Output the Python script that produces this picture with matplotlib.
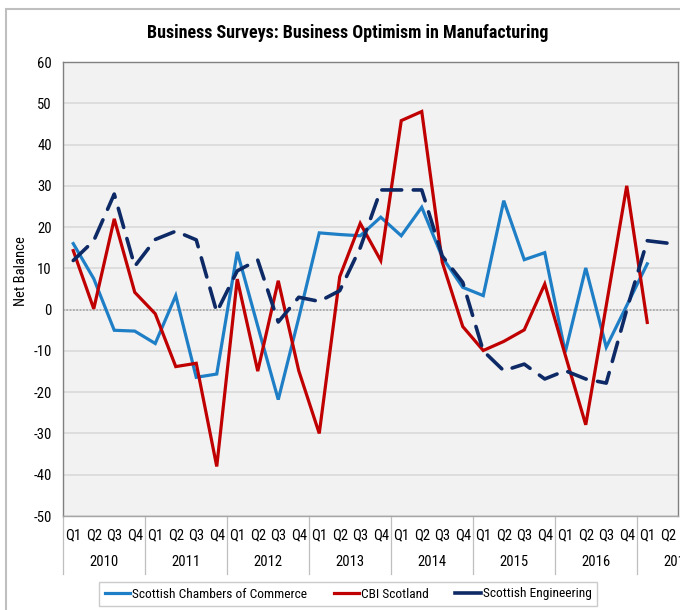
import matplotlib
matplotlib.use("Agg")
import matplotlib.pyplot as plt
from matplotlib.lines import Line2D
from matplotlib.patches import Rectangle
import numpy as np

plt.rcParams['font.family'] = ['Roboto Condensed', 'PT Sans Narrow', 'Liberation Sans', 'DejaVu Sans']

years = ['2010', '2011', '2012', '2013', '2014', '2015', '2016', '2017']
quarters = ['Q1', 'Q2', 'Q3', 'Q4']
n_q = 30  # 2010 Q1 .. 2017 Q2

scc = [16, 7.5, -5, -5.2, -8.2, 3.4, -16.4, -15.6,
       14, -4, -21.8, -2, 18.6, 18.2, 17.9, 22.4,
       17.9, 24.8, 12.7, 5.4, 3.4, 26.4, 12.1, 13.8,
       -10.3, 10.1, -9.1, 1, 11.1]
cbi = [14.3, 0.2, 22, 4.2, -1, -13.8, -13, -38,
       7.4, -14.9, 7, -14.8, -30, 8, 20.9, 11.9,
       45.8, 48, 11.5, -4.1, -9.9, -7.7, -4.9, 6.2,
       -11, -27.9, 1, 30, -3.1]
se = [11.9, 16.7, 28, 10.5, 17, 19, 16.9, -0.6,
      9.4, 12, -3, 3, 2, 4.6, 15, 29,
      29, 29, 13, 6.6, -10, -14.8, -13.2, -16.8,
      -14.8, -16.8, -17.8, 0, 16.7, 16.1]

fig = plt.figure(figsize=(6.8, 6.1), dpi=100)
W, H = 680, 610

# outer chart frame
fig.patches.append(Rectangle((6 / W, -0.05), 1.2, 1 - 9 / H + 0.05,
                             transform=fig.transFigure, fill=False,
                             edgecolor='#bfbfbf', linewidth=1.5))

ax = fig.add_axes([63 / W, 1 - 516 / H, (678 - 63) / W, (516 - 62) / H])
ax.set_facecolor('#f2f2f2')

x_scc = np.arange(len(scc))
x_cbi = np.arange(len(cbi))
x_se = np.arange(len(se))

ax.plot(x_scc, scc, color='#1f7fc6', lw=2.3, zorder=3, solid_joinstyle='miter')
ax.plot(x_cbi, cbi, color='#c00000', lw=2.3, zorder=3, solid_joinstyle='miter')
ax.plot(x_se, se, color='#0d2a66', lw=2.6, zorder=3, dashes=(5.5, 3.2),
        dash_capstyle='round')

ax.set_xlim(-0.5, n_q - 0.5)
ax.set_ylim(-50, 60)
ax.set_yticks(np.arange(-50, 61, 10))
ax.set_yticklabels([str(v) for v in range(-50, 61, 10)], fontsize=10.5)
ax.tick_params(axis='y', length=0, pad=8)
ax.yaxis.grid(True, color='#d9d9d9', lw=1.2)
ax.set_axisbelow(True)
ax.axhline(0, color='#a6a6a6', lw=1.2, ls=(0, (1, 1)), zorder=2)
ax.set_xticks([])
for s in ['top', 'right', 'bottom', 'left']:
    ax.spines[s].set_color('#808080')
    ax.spines[s].set_linewidth(1.0)
ax.spines['bottom'].set_color('#a6a6a6')

ax.set_ylabel('Net Balance', fontsize=10.5)
ax.yaxis.set_label_coords(-0.057, 0.54)

trans = ax.get_xaxis_transform()
axh = 516 - 62
for i in range(n_q):
    ax.text(i, -19 / axh, quarters[i % 4], transform=trans, ha='center',
            va='center', fontsize=10.5, clip_on=False)
for k, y in enumerate(years):
    xc = 4 * k + 1.5
    ax.text(xc, -46 / axh, y, transform=trans, ha='center', va='center',
            fontsize=10.5, clip_on=False)
for k in range(len(years) + 1):
    xb = 4 * k - 0.5
    ax.plot([xb, xb], [0, -58 / axh], transform=trans, color='#bfbfbf',
            lw=0.9, clip_on=False, zorder=1)

fig.text(348 / W, 1 - 33 / H, 'Business Surveys: Business Optimism in Manufacturing',
         ha='center', va='center', fontsize=13, fontweight='bold')

handles = [Line2D([], [], color='#1f7fc6', lw=2.3),
           Line2D([], [], color='#c00000', lw=2.3),
           Line2D([], [], color='#0d2a66', lw=2.6)]
labels = ['Scottish Chambers of Commerce', 'CBI Scotland', 'Scottish Engineering']
leg = fig.legend(handles, labels, loc='center', bbox_to_anchor=(348 / W, 1 - 594 / H),
                 ncol=3, fontsize=9.6, frameon=True, fancybox=False,
                 handlelength=1.9, handletextpad=0.15, columnspacing=2.0,
                 borderpad=0.4, borderaxespad=0)
leg.get_frame().set_edgecolor('#bfbfbf')
leg.get_frame().set_linewidth(1.0)

fig.savefig('out.png', dpi=100)
